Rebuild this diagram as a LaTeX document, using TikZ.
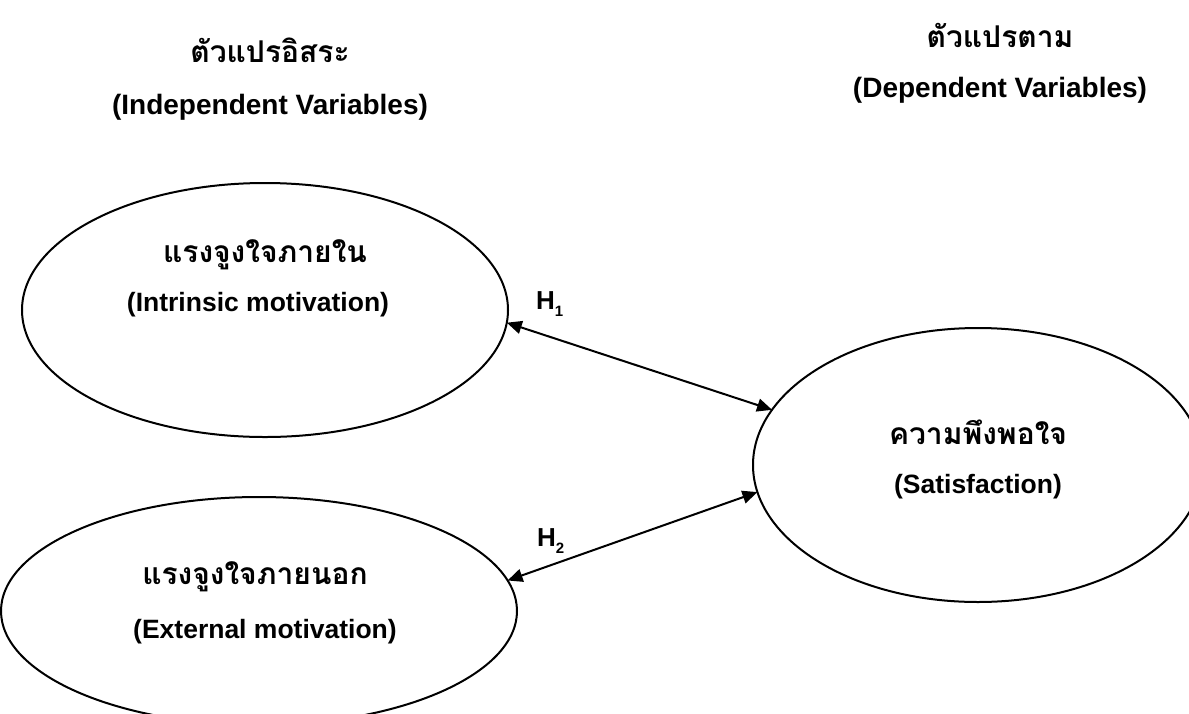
\documentclass[tikz,border=0pt]{standalone}
\usepackage{fontspec}
\setmainfont{Liberation Sans}
\newfontfamily\thaifont[Script=Thai]{Loma}
\usetikzlibrary{shapes.geometric,arrows.meta}
\newcommand{\hsub}[1]{\raisebox{-7pt}{\fontsize{15}{17}\selectfont #1}}
\begin{document}
\begin{tikzpicture}[x=1pt,y=-1pt,
  oval/.style={ellipse,draw,line width=2pt,outer sep=0pt,inner sep=0pt},
  lat/.style={font=\fontsize{26.5}{30}\selectfont\bfseries,inner sep=0pt},
  ttl/.style={font=\fontsize{28}{32}\selectfont\bfseries,inner sep=0pt},
  th/.style={font=\fontsize{30}{34}\selectfont\thaifont\bfseries,inner sep=0pt},
  hyp/.style={font=\fontsize{26}{30}\selectfont\bfseries,inner sep=0pt,anchor=base west},
  link/.style={line width=2pt,{Triangle[length=15pt,width=13pt]}-{Triangle[length=15pt,width=13pt]}}]
\useasboundingbox (0,0) rectangle (1189,713);
\begin{scope}
\clip (0,0) rectangle (1189,713);
\node[oval,minimum width=486pt,minimum height=254pt] (intr) at (265,310) {};
\node[oval,minimum width=516pt,minimum height=228pt] (extr) at (259,611) {};
\node[oval,minimum width=450pt,minimum height=274pt] (sat) at (978,465) {};
\end{scope}
% titles
\node[th] (t1) at (270,50) {ตัวแปรอิสระ};
\node[ttl] (t1e) at (270,107) {(Independent Variables)};
\node[th] (t2) at (1000,35) {ตัวแปรตาม};
\node[ttl] (t2e) at (1000,90) {(Dependent Variables)};
% ellipse texts
\node[th] (i1) at (265,255) {แรงจูงใจภายใน};
\node[lat] (i2) at (258,305) {(Intrinsic motivation)};
\node[th] (e1) at (255,577) {แรงจูงใจภายนอก};
\node[lat] (e2) at (265,632) {(External motivation)};
\node[th] (s1) at (978,432) {ความพึงพอใจ};
\node[lat] (s2) at (978,487) {(Satisfaction)};
% hypotheses
\node[hyp] (h1) at (536,309) {H\hsub{1}};
\node[hyp] (h2) at (537,546) {H\hsub{2}};
% connectors
\draw[link] (intr.-3) -- (sat.165.8);
\draw[link] (extr.7) -- (sat.187);
\end{tikzpicture}
\end{document}
